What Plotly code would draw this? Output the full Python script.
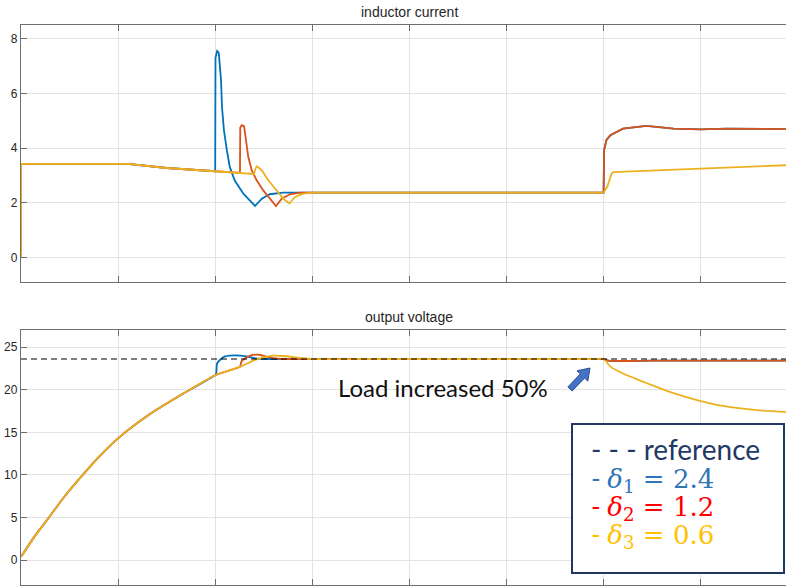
import plotly.graph_objects as go

# ---- inductor current (A) ----
t_start_i = [0.0, 0.001, 1.1, 1.5, 2.0]
i_start = [0.0, 3.42, 3.42, 3.27, 3.15]

t_blue_i = [2.003, 2.02, 2.035, 2.04, 2.06, 2.07, 2.09, 2.12, 2.15, 2.20, 2.29, 2.41,
            2.48, 2.56, 2.70, 6.0, 6.005, 6.03, 6.07, 6.2, 6.44, 6.72, 7.0, 7.27, 7.88]
i_blue = [7.3, 7.55, 7.5, 7.34, 6.48, 5.5, 4.65, 3.92, 3.31, 2.82, 2.33, 1.88,
          2.15, 2.31, 2.37, 2.37, 3.92, 4.3, 4.47, 4.71, 4.81, 4.71, 4.68, 4.71, 4.69]

t_red_i = [2.255, 2.258, 2.273, 2.297, 2.317, 2.341, 2.376, 2.427, 2.495, 2.564, 2.626,
           2.685, 2.77, 2.873, 6.0, 6.005, 6.03, 6.07, 6.2, 6.44, 6.72, 7.0, 7.27, 7.88]
i_red = [3.09, 4.75, 4.84, 4.8, 4.29, 3.67, 3.19, 2.82, 2.45, 2.15, 1.88,
         2.15, 2.31, 2.37, 2.37, 3.92, 4.3, 4.47, 4.71, 4.81, 4.71, 4.68, 4.71, 4.69]

t_yel_i = [2.255, 2.40, 2.415, 2.43, 2.479, 2.547, 2.616, 2.701, 2.763, 2.822, 2.907,
           3.01, 6.0, 6.04, 6.08, 6.1, 7.0, 7.88]
i_yel = [3.09, 3.05, 3.25, 3.33, 3.19, 2.82, 2.52, 2.15, 1.97, 2.21, 2.33,
         2.37, 2.37, 2.6, 3.05, 3.12, 3.25, 3.37]

# ---- output voltage (V) ----
t_start_v = [0.0, 0.14, 0.28, 0.45, 0.62, 0.80, 1.0, 1.31, 1.65, 2.0]
v_start = [0.4, 2.8, 4.9, 7.5, 9.8, 12.1, 14.3, 17.0, 19.4, 21.7]

t_blue_v = [2.01, 2.02, 2.06, 2.1, 2.15, 2.26, 2.32, 2.43, 2.55, 3.0, 4.0, 5.0, 5.9,
            6.0, 6.05, 6.5, 7.2, 7.88]
v_blue = [21.9, 23.1, 23.6, 23.9, 24.0, 24.0, 23.9, 23.65, 23.6, 23.6, 23.6, 23.6, 23.6,
          23.6, 23.4, 23.4, 23.4, 23.4]

t_red_v = [2.1, 2.255, 2.27, 2.31, 2.36, 2.45, 2.52, 2.6, 2.7, 3.0, 4.0, 5.0, 5.9,
           6.0, 6.05, 6.5, 7.2, 7.88]
v_red = [22.1, 22.7, 23.3, 23.7, 24.0, 24.1, 23.9, 23.7, 23.6, 23.6, 23.6, 23.6, 23.6,
         23.6, 23.4, 23.4, 23.4, 23.4]

t_yel_v = [2.1, 2.26, 2.41, 2.5, 2.6, 2.7, 2.85, 3.0, 3.5, 4.0, 5.0, 5.5, 5.9, 6.0,
           6.07, 6.2, 6.37, 6.55, 6.72, 6.99, 7.23, 7.58, 7.88]
v_yel = [22.1, 22.7, 23.5, 23.8, 24.0, 23.95, 23.75, 23.6, 23.6, 23.6, 23.6, 23.6, 23.6, 23.6,
         22.7, 21.9, 21.1, 20.3, 19.6, 18.7, 18.1, 17.6, 17.4]

t_ref = [0.0, 7.88]
v_ref = [23.6, 23.6]

legend_ref = "- - - reference"
legend_vals = ["2.4", "1.2", "0.6"]

C_BLUE, C_RED, C_YEL = "#0072BD", "#D95319", "#EDB120"

W, H = 786, 588
ML = 21
PW = W - ML
X_END = PW / 97.1


def px(x):
    return (x - ML) / PW


def py(y):
    return (H - y) / H


fig = go.Figure()


def line(tx, vy, color, xa, ya, shape="linear", width=1.8, dash=None):
    fig.add_trace(go.Scatter(x=tx, y=vy, mode="lines", xaxis=xa, yaxis=ya,
                             line=dict(color=color, width=width, shape=shape, dash=dash,
                                       smoothing=0.6 if shape == "spline" else None),
                             hoverinfo="skip", showlegend=False))


# current traces
line(t_start_i + t_blue_i, i_start + i_blue, C_BLUE, "x", "y")
line(t_start_i + t_red_i, i_start + i_red, C_RED, "x", "y")
line(t_start_i + t_yel_i, i_start + i_yel, C_YEL, "x", "y")

# voltage traces
line(t_start_v + t_blue_v, v_start + v_blue, C_BLUE, "x2", "y2", shape="spline")
line(t_start_v + t_red_v, v_start + v_red, C_RED, "x2", "y2", shape="spline")
line(t_start_v + t_yel_v, v_start + v_yel, C_YEL, "x2", "y2", shape="spline")
line(t_ref, v_ref, "#000000", "x2", "y2", width=1.2, dash="6px,4px")

axis_font = dict(family="Liberation Sans Narrow, Liberation Sans, Arial", size=12, color="#262626")
common_x = dict(range=[0, X_END], dtick=1, tick0=0, showticklabels=False,
                showgrid=True, gridcolor="#e3e3e3", gridwidth=1,
                showline=True, linecolor="#6e6e6e", linewidth=1.3, mirror="ticks",
                ticks="inside", ticklen=6, tickcolor="#6e6e6e", zeroline=False,
                automargin=False)
common_y = dict(showgrid=True, gridcolor="#e3e3e3", gridwidth=1,
                showline=True, linecolor="#6e6e6e", linewidth=1.3, mirror=False,
                ticks="inside", ticklen=6, tickcolor="#6e6e6e", zeroline=False,
                tickfont=axis_font, automargin=False)

fig.update_layout(
    width=W, height=H,
    margin=dict(l=ML, r=0, t=0, b=0),
    paper_bgcolor="white", plot_bgcolor="white",
    xaxis=dict(**common_x, domain=[0, 1], anchor="y"),
    yaxis=dict(**common_y, domain=[py(282), py(25)], range=[-0.9, 8.5],
               tickvals=[0, 2, 4, 6, 8], anchor="x"),
    xaxis2=dict(**common_x, domain=[0, 1], anchor="y2"),
    yaxis2=dict(**common_y, domain=[py(585), py(330)], range=[-2.9, 27.0],
                tickvals=[0, 5, 10, 15, 20, 25], anchor="x2"),
)

title_font = dict(family="Liberation Sans Narrow, Liberation Sans, Arial", size=14, color="#262626")
fig.add_annotation(text="inductor current", xref="paper", yref="paper",
                   x=px(409), y=py(12), xanchor="center", yanchor="middle",
                   showarrow=False, font=title_font)
fig.add_annotation(text="output voltage", xref="paper", yref="paper",
                   x=px(409), y=py(317), xanchor="center", yanchor="middle",
                   showarrow=False, font=title_font)

# load-step note and block arrow
fig.add_annotation(text="Load increased 50%", xref="paper", yref="paper",
                   x=px(336), y=py(387), xanchor="left", yanchor="middle",
                   showarrow=False, font=dict(family="Lato", size=24, color="#111111"))

tail, tip = (570.0, 389.0), (590.0, 368.0)
dx, dy = tip[0] - tail[0], tip[1] - tail[1]
ln = (dx * dx + dy * dy) ** 0.5
ux, uy = dx / ln, dy / ln
nx, ny = -uy, ux
neck = (tip[0] - 11 * ux, tip[1] - 11 * uy)
pts = [
    (tail[0] + 3 * nx, tail[1] + 3 * ny),
    (neck[0] + 3 * nx, neck[1] + 3 * ny),
    (neck[0] + 7.5 * nx, neck[1] + 7.5 * ny),
    tip,
    (neck[0] - 7.5 * nx, neck[1] - 7.5 * ny),
    (neck[0] - 3 * nx, neck[1] - 3 * ny),
    (tail[0] - 3 * nx, tail[1] - 3 * ny),
]
path = "M " + " L ".join(f"{px(a):.5f},{py(b):.5f}" for a, b in pts) + " Z"
fig.add_shape(type="path", path=path, xref="paper", yref="paper",
              fillcolor="#4472C4", line=dict(color="#2F528F", width=1))

# legend box
fig.add_shape(type="rect", xref="paper", yref="paper",
              x0=px(572), x1=px(784), y0=py(573), y1=py(424),
              fillcolor="white", line=dict(color="#1F3864", width=2))

# legend text as one block; line pitch follows the base font size (1.3 x 21.5 px)
legend_colors = ["#2E75B6", "#FF0000", "#FFC000"]
rows = [f'<span style="font-family:Lato;font-size:28px;color:#1F3864">{legend_ref}</span>']
for k, (val, col) in enumerate(zip(legend_vals, legend_colors)):
    rows.append(
        f'<span style="font-family:Lato;font-size:26px;color:{col}">- </span>'
        f'<span style="font-family:DejaVu Serif;font-size:26px;color:{col}">'
        f'<i>δ</i><sub>{k + 1}</sub> = {val}</span>'
    )
fig.add_annotation(text="<br>".join(rows), xref="paper", yref="paper",
                   x=px(589), y=py(492), xanchor="left", yanchor="middle", align="left",
                   showarrow=False,
                   font=dict(family="Lato", size=21.5, color="#1F3864"))

fig.write_html("out.html")
